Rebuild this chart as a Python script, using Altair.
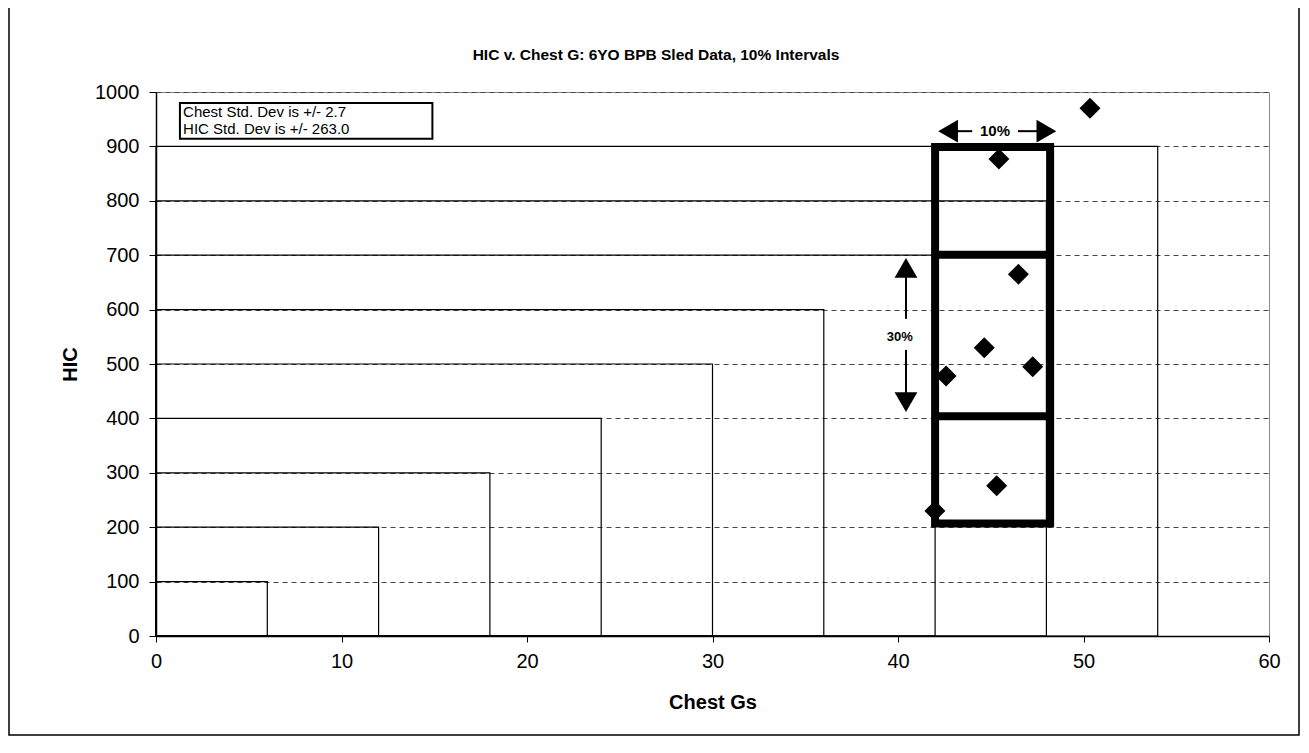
import altair as alt
import pandas as pd

# ---- data ----
step_right = [6, 12, 18, 24, 30, 36, 42, 48, 54]          # Chest Gs (10% intervals)
step_top = [100, 200, 300, 400, 500, 600, 700, 800, 900]   # HIC

pts_x = [50.35, 45.44, 46.49, 44.65, 47.26, 42.59, 45.32, 41.99]
pts_y = [970, 877, 665, 530, 495, 478, 276, 230]

hl_box_x = [42.0, 48.2]
hl_box_y = [207, 899]
hl_div_y = [404, 701]

stat_lines = ["Chest Std. Dev is +/- 2.7", "HIC Std. Dev is +/- 263.0"]
stat_line_y = [963, 932]
stat_box = [1.29, 14.9, 914, 980]

# arrow annotations
h_arrow_y = 928
h_seg = [[43.07, 44.0], [46.47, 47.65]]
h_heads_x = [42.7, 48.0]
h_label = "10%"
h_label_x = 45.23

v_arrow_x = 40.43
v_seg = [[583, 664], [441, 526]]
v_heads_y = [676.5, 430]
v_label = "30%"
v_label_y = 550
v_label_x = 40.1

FONT = "Liberation Sans"

xs = alt.Scale(domain=[0, 60], nice=False, zero=False)
ys = alt.Scale(domain=[0, 1000], nice=False, zero=False)
x_axis = alt.Axis(values=list(range(0, 61, 10)), grid=False, title="Chest Gs", format="d",
                  titleFontSize=20, titleFont=FONT, titleFontWeight="bold",
                  titleColor="black", titleY=66, titleBaseline="middle",
                  labelFontSize=20, labelFont=FONT, labelColor="black",
                  labelPadding=9, tickSize=6, tickColor="black",
                  domainColor="black", domainWidth=1.5, labelFlush=False)
y_axis = alt.Axis(values=list(range(0, 1001, 100)), grid=True, gridDash=[5, 4], format="d",
                  gridColor="#444", gridWidth=1, title="HIC",
                  titleFontSize=20, titleFont=FONT, titleFontWeight="bold",
                  titleColor="black", titleX=-86, titleY=272, titleBaseline="middle",
                  labelFontSize=20, labelFont=FONT, labelColor="black",
                  labelPadding=10, tickSize=7, tickColor="black",
                  domainColor="black", domainWidth=1.5, labelFlush=False)


def X(f):
    return alt.X(f"{f}:Q", scale=xs, axis=x_axis)


def Y(f):
    return alt.Y(f"{f}:Q", scale=ys, axis=y_axis)


steps = pd.DataFrame({"x0": [0] * len(step_right), "x1": step_right,
                      "y0": [0] * len(step_top), "y1": step_top})
step_layer = alt.Chart(steps).mark_rect(fillOpacity=0, stroke="black", strokeWidth=1.2).encode(
    x=X("x0"), x2="x1", y=Y("y0"), y2="y1")

hb = pd.DataFrame({"x0": [hl_box_x[0]], "x1": [hl_box_x[1]], "y0": [hl_box_y[0]], "y1": [hl_box_y[1]]})
hbox_layer = alt.Chart(hb).mark_rect(fillOpacity=0, stroke="black", strokeWidth=8).encode(
    x=X("x0"), x2="x1", y=Y("y0"), y2="y1")

hd = pd.DataFrame({"x0": [hl_box_x[0]] * 2, "x1": [hl_box_x[1]] * 2, "y": hl_div_y})
hdiv_layer = alt.Chart(hd).mark_rule(stroke="black", strokeWidth=8).encode(
    x=X("x0"), x2="x1", y=Y("y"))

pts = pd.DataFrame({"x": pts_x, "y": pts_y})
pt_layer = alt.Chart(pts).mark_point(shape="diamond", filled=True, size=440,
                                     color="black", opacity=1).encode(x=X("x"), y=Y("y"))

# arrows
hseg = pd.DataFrame({"x0": [s[0] for s in h_seg], "x1": [s[1] for s in h_seg],
                     "y": [h_arrow_y] * 2})
hseg_layer = alt.Chart(hseg).mark_rule(stroke="black", strokeWidth=2).encode(
    x=X("x0"), x2="x1", y=Y("y"))
vseg = pd.DataFrame({"y0": [s[0] for s in v_seg], "y1": [s[1] for s in v_seg],
                     "x": [v_arrow_x] * 2})
vseg_layer = alt.Chart(vseg).mark_rule(stroke="black", strokeWidth=2).encode(
    x=X("x"), y=Y("y0"), y2="y1")
heads = pd.DataFrame({
    "x": h_heads_x + [v_arrow_x, v_arrow_x],
    "y": [h_arrow_y, h_arrow_y] + v_heads_y,
    "shape": ["triangle-left", "triangle-right", "triangle-up", "triangle-down"],
})
head_layer = alt.Chart(heads).mark_point(filled=True, size=520, color="black", opacity=1).encode(
    x=X("x"), y=Y("y"), shape=alt.Shape("shape:N", scale=None))
alabels = pd.DataFrame({"x": [h_label_x, v_label_x], "y": [h_arrow_y, v_label_y],
                        "t": [h_label, v_label], "fs": [15, 13]})
alabel_layer = alt.Chart(alabels).mark_text(font=FONT, fontWeight="bold",
                                            color="black", align="center", baseline="middle").encode(
    x=X("x"), y=Y("y"), text="t:N", size=alt.Size("fs:Q", scale=None))

# stats box
sb = pd.DataFrame({"x0": [stat_box[0]], "x1": [stat_box[1]], "y0": [stat_box[2]], "y1": [stat_box[3]]})
sbox_layer = alt.Chart(sb).mark_rect(fill="white", stroke="black", strokeWidth=2).encode(
    x=X("x0"), x2="x1", y=Y("y0"), y2="y1")
st = pd.DataFrame({"x": [stat_box[0] + 0.17] * 2, "y": stat_line_y, "t": stat_lines})
stext_layer = alt.Chart(st).mark_text(font=FONT, fontSize=15, color="black",
                                      align="left", baseline="middle").encode(
    x=X("x"), y=Y("y"), text="t:N")

# decorations: outer frame and title
one = pd.DataFrame({"t": ["HIC v. Chest G: 6YO BPB Sled Data, 10% Intervals"]})
frame_layer = alt.Chart(one).mark_rect(fillOpacity=0, stroke="black", strokeWidth=1.5).encode(
    x=alt.value(-147), x2=alt.value(1143), y=alt.value(-91), y2=alt.value(643))
title_layer = alt.Chart(one).mark_text(font=FONT, fontSize=15.5, fontWeight="bold", color="black",
                                       align="center", baseline="middle").encode(
    x=alt.value(500), y=alt.value(-37), text="t:N")

chart = alt.layer(
    step_layer, hbox_layer, hdiv_layer, pt_layer, hseg_layer, vseg_layer, head_layer,
    alabel_layer, sbox_layer, stext_layer, frame_layer, title_layer
).properties(
    width=1113, height=544,
    autosize=alt.AutoSizeParams(type="none"),
    padding={"left": 148, "top": 84, "right": 32, "bottom": 100},
    background="white",
).configure_view(stroke="#888", strokeWidth=1)

chart.save("out.html", embed_options={"renderer": "svg", "actions": False})
